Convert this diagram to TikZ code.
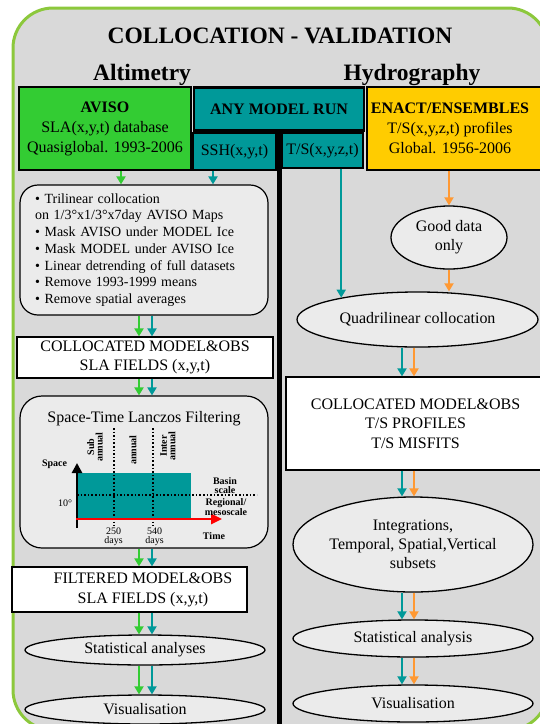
\documentclass[tikz,border=0pt]{standalone}
\usepackage{fontspec}
\setmainfont{Liberation Serif}
\usetikzlibrary{arrows.meta}
\usetikzlibrary{shapes.geometric}

\definecolor{framegreen}{HTML}{8CC83C}
\definecolor{panelgray}{HTML}{D9D9D9}
\definecolor{avisogreen}{HTML}{33CC33}
\definecolor{modelteal}{HTML}{009999}
\definecolor{enactyellow}{HTML}{FFCC00}
\definecolor{obsorange}{HTML}{FF9933}
\definecolor{stepfill}{HTML}{EBEBEB}

\tikzset{
  heading/.style={font=\fontsize{23.5}{28}\selectfont\bfseries, anchor=base, inner sep=0pt},
  srcbox/.style={draw=black, line width=1.2pt, inner sep=0pt, align=center, font=\fontsize{16}{20}\selectfont},
  modelbox/.style={srcbox, fill=modelteal},
  stepbox/.style={draw=black, line width=1.2pt, fill=stepfill, rounded corners=18pt, inner sep=0pt},
  fieldbox/.style={draw=black, line width=1.2pt, fill=white, inner sep=0pt, align=center, font=\fontsize{16}{19.5}\selectfont},
  stage/.style={ellipse, draw=black, line width=1.3pt, fill=stepfill, inner sep=0pt, align=center, font=\fontsize{16}{19}\selectfont},
  chartlabel/.style={font=\fontsize{10}{8.5}\selectfont\bfseries, align=center, inner sep=0pt},
  ticklabel/.style={font=\fontsize{10}{9}\selectfont, align=center, inner sep=0pt},
  flow/.style={line width=1.8pt, -{Triangle[width=9pt,length=8pt]}},
  gflow/.style={flow, avisogreen},
  tflow/.style={flow, modelteal},
  oflow/.style={flow, obsorange},
  divider/.style={line width=5pt}
}

\begin{document}
\begin{tikzpicture}[x=1pt, y=-1pt]
  \useasboundingbox (0,0) rectangle (539,724);
  \draw[framegreen, line width=3pt, fill=panelgray, rounded corners=40pt] (13,8) rectangle (548,730);

  \node[heading] (title) at (280,43) {COLLOCATION - VALIDATION};
  \node[heading] (alti) at (142,80) {Altimetry};
  \node[heading] (hydro) at (412,80) {Hydrography};

  % sources
  \node[srcbox, fill=avisogreen, minimum width=172, minimum height=83] (aviso) at (105,128.5)
    {\textbf{AVISO}\\SLA(x,y,t) database\\Quasiglobal. 1993-2006};
  \node[modelbox, line width=2.5pt, minimum width=170, minimum height=43] (model) at (279,109) {\textbf{ANY MODEL RUN}};
  \node[modelbox, minimum width=83, minimum height=37] (ssh) at (234.5,151.5) {SSH(x,y,t)};
  \node[modelbox, minimum width=81, minimum height=35] (ts) at (322.5,150.5) {T/S(x,y,z,t)};
  \node[srcbox, fill=enactyellow, minimum width=180, minimum height=83] (enact) at (457,128.5) {};
  \node[srcbox, draw=none] (enacttext) at (450,128.5)
    {\textbf{ENACT/ENSEMBLES}\\T/S(x,y,z,t) profiles\\Global. 1956-2006};

  \coordinate (bottom) at (279,726);
  \draw[divider] (model.south) -- (model.south |- bottom);

  % altimetry column
  \node[stepbox, minimum width=248, minimum height=130, text width=218, align=left,
        font=\fontsize{14}{16.7}\selectfont] (trilin) at (144,250)
    {• Trilinear collocation\\on 1/3°x1/3°x7day AVISO Maps\\• Mask AVISO under MODEL Ice\\• Mask MODEL under AVISO Ice\\• Linear detrending of full datasets\\• Remove 1993-1999 means\\• Remove spatial averages};
  \node[fieldbox, minimum width=256, minimum height=41] (colsla) at (145,357.5) {COLLOCATED MODEL\&OBS\\SLA FIELDS (x,y,t)};
  \node[stepbox, rounded corners=22pt, minimum width=248, minimum height=152] (filter) at (144,472) {};
  \node[font=\fontsize{16}{19}\selectfont, inner sep=0pt] (filtertitle) at (144,419) {Space-Time Lanczos Filtering};

  \fill[modelteal] (77,473) rectangle (191,518);
  \draw[line width=1.6pt, dotted] (77,495) -- (257,495);
  \draw[line width=1.6pt, dotted] (114,428) -- (114,526);
  \draw[line width=1.6pt, dotted] (153,428) -- (153,526);
  \draw[line width=2.5pt, -{Triangle[width=10pt,length=10pt]}] (77,528) -- (77,463);
  \draw[red, line width=2.5pt, -{Triangle[width=10pt,length=11pt]}] (76,519) -- (222,519);
  \node[chartlabel] (space) at (54.5,464) {Space};
  \node[ticklabel] (tendeg) at (65,503) {10°};
  \node[ticklabel] (d250) at (113.5,537) {250\\days};
  \node[ticklabel] (d540) at (154.5,537) {540\\days};
  \node[chartlabel] (time) at (214,536) {Time};
  \node[chartlabel] (basin) at (225,485.5) {Basin\\scale};
  \node[chartlabel] (regional) at (226,507) {Regional/\\mesoscale};
  \node[chartlabel, rotate=90] (subann) at (95,447) {Sub\\annual};
  \node[chartlabel, rotate=90] (ann) at (133,450) {annual};
  \node[chartlabel, rotate=90] (interann) at (168,446) {Inter\\annual};

  \node[fieldbox, minimum width=235, minimum height=45] (filtered) at (129.5,589.5) {};
  \node[fieldbox, draw=none, fill=none] (filteredtext) at (143,590) {FILTERED MODEL\&OBS\\SLA FIELDS (x,y,t)};
  \node[stage, minimum width=240, minimum height=30] (statL) at (145,650) {Statistical analyses};
  \node[stage, minimum width=240, minimum height=29] (visL) at (145,709.5) {Visualisation};

  % hydrography column
  \node[stage, minimum width=116, minimum height=63] (good) at (449,237.5) {Good data\\only};
  \node[stage, minimum width=241, minimum height=55] (quad) at (417.5,319.5) {Quadrilinear collocation};
  \node[fieldbox, minimum width=259, minimum height=93] (colts) at (415.5,423.5) {COLLOCATED MODEL\&OBS\\T/S PROFILES\\T/S MISFITS};
  \node[stage, minimum width=240, minimum height=95] (integ) at (413,544.5) {Integrations,\\Temporal, Spatial,Vertical\\subsets};
  \node[stage, minimum width=240, minimum height=37] (statR) at (413,638.5) {Statistical analysis};
  \node[stage, minimum width=240, minimum height=37] (visR) at (413,703.5) {Visualisation};

  % flows
  \coordinate (gcol) at (139,0);
  \coordinate (mcol) at (152,0);
  \coordinate (tcol) at (402,0);
  \coordinate (ocol) at (414,0);

  \draw[gflow] ([xshift=16pt]aviso.south) -- ([xshift=16pt]aviso.south |- trilin.north);
  \draw[tflow] ([xshift=-21.5pt]ssh.south) -- ([xshift=-21.5pt]ssh.south |- trilin.north);
  \draw[gflow] (trilin.south -| gcol) -- (colsla.north -| gcol);
  \draw[tflow] (trilin.south -| mcol) -- (colsla.north -| mcol);
  \draw[gflow] (colsla.south -| gcol) -- (filter.north -| gcol);
  \draw[tflow] (colsla.south -| mcol) -- (filter.north -| mcol);
  \draw[gflow] (filter.south -| gcol) -- (filtered.north -| gcol);
  \draw[tflow] (filter.south -| mcol) -- (filtered.north -| mcol);
  \draw[gflow] (filtered.south -| gcol) -- (statL.north -| gcol);
  \draw[tflow] (filtered.south -| mcol) -- (statL.north -| mcol);
  \draw[gflow] (statL.south -| gcol) -- (visL.north -| gcol);
  \draw[tflow] (statL.south -| mcol) -- (visL.north -| mcol);

  \draw[tflow] (ts.south -| quad.164.8) -- (quad.164.8);
  \draw[oflow] (enact.south -| good.north) -- (good.north);
  \draw[oflow] (good.south) -- (good.south |- quad.north);
  \draw[tflow] (quad.south -| tcol) -- (colts.north -| tcol);
  \draw[oflow] (quad.south -| ocol) -- (colts.north -| ocol);
  \draw[tflow] (colts.south -| tcol) -- (integ.north -| tcol);
  \draw[oflow] (colts.south -| ocol) -- (integ.north -| ocol);
  \draw[tflow] (integ.south -| tcol) -- (statR.north -| tcol);
  \draw[oflow] (integ.south -| ocol) -- (statR.north -| ocol);
  \draw[tflow] (statR.south -| tcol) -- (visR.north -| tcol);
  \draw[oflow] (statR.south -| ocol) -- (visR.north -| ocol);
\end{tikzpicture}
\end{document}
